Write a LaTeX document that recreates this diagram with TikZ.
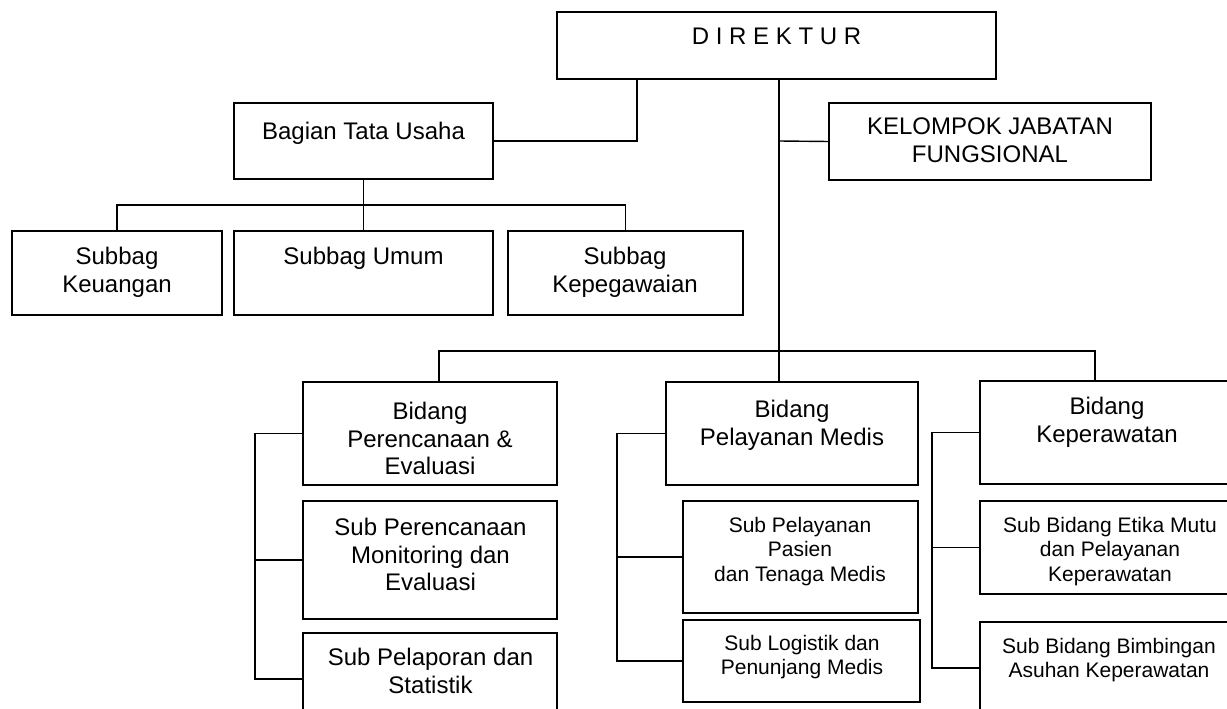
\documentclass[tikz,border=0pt]{standalone}
\usepackage{fontspec}
\setmainfont{Liberation Sans}
\begin{document}
\begin{tikzpicture}[x=1pt,y=-1pt,
  box/.style={draw, line width=1.3pt, inner sep=0pt, outer sep=0pt, anchor=north west},
  conn/.style={line width=1.4pt},
  trunkline/.style={line width=2.2pt},
  big/.style={font=\fontsize{24}{27.6}\selectfont, align=center, inner sep=0pt, anchor=north},
  small/.style={font=\fontsize{21}{24.5}\selectfont, align=center, inner sep=0pt, anchor=north}]
\useasboundingbox (0,0) rectangle (1227,709);
\clip (0,0) rectangle (1227,709);
\fill[white] (0,0) rectangle (1227,709);

% boxes
\node[box, minimum width=439pt, minimum height=67pt] (dir) at (557,12) {};
\node[box, minimum width=259pt, minimum height=76pt] (bag) at (234,103) {};
\node[box, minimum width=322pt, minimum height=77pt] (kel) at (829,103) {};
\node[box, minimum width=210pt, minimum height=84pt] (sk) at (12,231) {};
\node[box, minimum width=259pt, minimum height=84pt] (sum) at (234,231) {};
\node[box, minimum width=235pt, minimum height=84pt] (skp) at (508,231) {};
\node[box, minimum width=254pt, minimum height=103pt] (bpe) at (303,382) {};
\node[box, minimum width=254pt, minimum height=118pt] (spme) at (303,501) {};
\node[box, minimum width=254pt, minimum height=92pt] (spst) at (303,633) {};
\node[box, minimum width=252pt, minimum height=103pt] (bpm) at (666,382) {};
\node[box, minimum width=235pt, minimum height=112pt] (spp) at (683,501) {};
\node[box, minimum width=237pt, minimum height=82pt] (slp) at (683,620) {};
\node[box, minimum width=270pt, minimum height=103pt] (bkp) at (980,381) {};
\node[box, minimum width=270pt, minimum height=93pt] (set) at (980,501) {};
\node[box, minimum width=270pt, minimum height=92pt] (sbb) at (980,622) {};

% texts
\node[big] (tdir) at (776.5,28) {D I R E K T U R};
\node[big] (tbag) at (363.5,122) {Bagian Tata Usaha};
\node[big] (tkel) at (990,118) {KELOMPOK JABATAN\\FUNGSIONAL};
\node[big] (tsk) at (117,247) {Subbag\\Keuangan};
\node[big] (tsum) at (363.5,247) {Subbag Umum};
\node[big] (tskp) at (625,247) {Subbag\\Kepegawaian};
\node[big] (tbpe) at (430,402) {Bidang\\Perencanaan \&\\Evaluasi};
\node[big] (tspme) at (430.5,518) {Sub Perencanaan\\Monitoring dan\\Evaluasi};
\node[big] (tspst) at (430.5,648) {Sub Pelaporan dan\\Statistik};
\node[big] (tbpm) at (792,400) {Bidang\\Pelayanan Medis};
\node[small] (tspp) at (800,517) {Sub Pelayanan\\Pasien\\dan Tenaga Medis};
\node[small] (tslp) at (802,635) {Sub Logistik dan\\Penunjang Medis};
\node[big] (tbkp) at (1107,397) {Bidang\\Keperawatan};
\node[small] (tset) at (1110,517) {Sub Bidang Etika Mutu\\dan Pelayanan\\Keperawatan};
\node[small] (tsbb) at (1109,638) {Sub Bidang Bimbingan\\Asuhan Keperawatan};

% junction coordinates
\coordinate (jb) at (637,141);
\coordinate (tr) at (779,141);
\coordinate (bus1) at (0,205);
\coordinate (d1) at (439,351);
\coordinate (d2) at (1095,351);
\coordinate (g1) at (255,0);
\coordinate (g2) at (617,0);
\coordinate (g3) at (932,0);

% connectors
\draw[conn] (dir.south -| jb) -- (jb) -- (bag.east);
\draw[trunkline] (dir.south -| tr) -- (bpm.north -| tr);
\draw[conn] (tr) -- (kel.west);
\draw[conn] (bag.south) -- (sum.north);
\draw[conn] (sk.north) -- (sk.north |- bus1) -- (skp.north |- bus1) -- (skp.north);
\draw[conn] (d1 |- bpe.north) -- (d1) -- (d2) -- (d2 |- bkp.north);
\draw[conn] (bpe.west) -- (bpe.west -| g1) -- (spst.west -| g1) -- (spst.west);
\draw[conn] (spme.west) -- (spme.west -| g1);
\draw[conn] (bpm.west) -- (bpm.west -| g2) -- (slp.west -| g2) -- (slp.west);
\draw[conn] (spp.west) -- (spp.west -| g2);
\draw[conn] (bkp.west) -- (bkp.west -| g3) -- (sbb.west -| g3) -- (sbb.west);
\draw[conn] (set.west) -- (set.west -| g3);
\end{tikzpicture}
\end{document}
